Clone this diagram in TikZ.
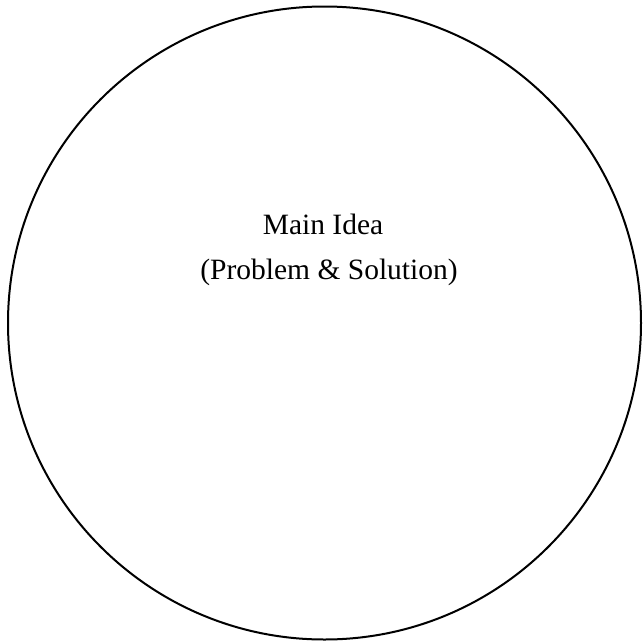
\documentclass[tikz,border=0pt]{standalone}
\usepackage{fontspec}
\setmainfont{Liberation Serif}
\begin{document}
\begin{tikzpicture}[x=1pt,y=-1pt]
                \useasboundingbox (0,0) rectangle (643,643);
                \draw[line width=2pt] (324.5,323) circle[radius=316.5];
                \node[font=\fontsize{29.5}{34}\selectfont] (main) at (323,224) {Main Idea};
                \node[font=\fontsize{29.5}{34}\selectfont] (kind) at (329,272) {(Problem \& Solution)};
            \end{tikzpicture}
\end{document}
